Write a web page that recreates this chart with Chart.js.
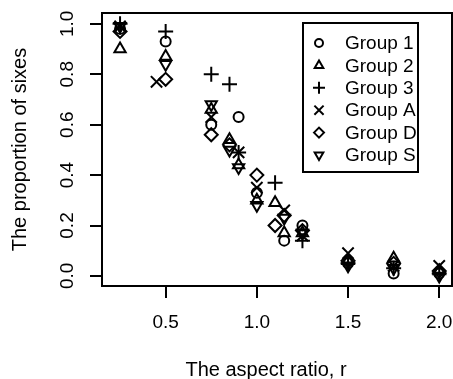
<!DOCTYPE html>
<html>
<head>
<meta charset="utf-8">
<script src="https://cdn.jsdelivr.net/npm/chart.js@4.4.1/dist/chart.umd.min.js"></script>
<style>
html, body { margin: 0; padding: 0; background: #fff; }
#wrap { width: 453px; height: 379px; }
</style>
</head>
<body>
<div id="wrap"><canvas id="plot" width="453" height="379"></canvas></div>
<script>
// ---- data ----
var GROUP_NAMES = ['Group 1', 'Group 2', 'Group 3', 'Group A', 'Group D', 'Group S'];

var G1_X = [0.25, 0.5, 0.75, 0.9, 1.0, 1.15, 1.25, 1.5, 1.75, 2.0];
var G1_Y = [0.98, 0.93, 0.60, 0.63, 0.33, 0.14, 0.20, 0.05, 0.01, 0.01];

var G2_X = [0.25, 0.5, 0.75, 0.85, 0.9, 1.0, 1.1, 1.15, 1.25, 1.5, 1.75, 2.0];
var G2_Y = [0.90, 0.87, 0.66, 0.54, 0.44, 0.30, 0.29, 0.17, 0.17, 0.06, 0.07, 0.02];

var G3_X = [0.25, 0.5, 0.75, 0.85, 0.9, 1.1, 1.25, 1.5, 1.75, 2.0];
var G3_Y = [1.00, 0.97, 0.80, 0.76, 0.49, 0.37, 0.14, 0.05, 0.03, 0.01];

var GA_X = [0.25, 0.45, 0.75, 0.9, 1.0, 1.15, 1.25, 1.5, 1.75, 2.0];
var GA_Y = [0.99, 0.77, 0.63, 0.49, 0.35, 0.26, 0.16, 0.09, 0.04, 0.04];

var GD_X = [0.25, 0.5, 0.75, 0.85, 1.0, 1.1, 1.15, 1.25, 1.5, 1.75, 2.0];
var GD_Y = [0.97, 0.78, 0.56, 0.52, 0.40, 0.20, 0.24, 0.18, 0.06, 0.05, 0.02];

var GS_X = [0.25, 0.5, 0.75, 0.85, 0.9, 1.0, 1.15, 1.25, 1.5, 1.75, 2.0];
var GS_Y = [0.99, 0.84, 0.68, 0.50, 0.43, 0.28, 0.23, 0.17, 0.04, 0.03, 0.00];

var X_TICKS = [0.5, 1.0, 1.5, 2.0];
var Y_TICKS = [0.0, 0.2, 0.4, 0.6, 0.8, 1.0];
var X_TITLE = 'The aspect ratio, r';
var Y_TITLE = 'The proportion of sixes';

var FONT = '"Liberation Sans", Arial, sans-serif';

function toPoints(xs, ys) {
    var pts = [];
    for (var i = 0; i < xs.length; i++) pts.push({ x: xs[i], y: ys[i] });
    return pts;
}

var STYLES = [
    { pointStyle: 'circle', radius: 5, rotation: 0 },
    { pointStyle: 'triangle', radius: 6.5, rotation: 0 },
    { pointStyle: 'cross', radius: 7.5, rotation: 0 },
    { pointStyle: 'crossRot', radius: 8, rotation: 0 },
    { pointStyle: 'rectRot', radius: 6.5, rotation: 0 },
    { pointStyle: 'triangle', radius: 6.5, rotation: 180 }
];
var SERIES = [[G1_X, G1_Y], [G2_X, G2_Y], [G3_X, G3_Y], [GA_X, GA_Y], [GD_X, GD_Y], [GS_X, GS_Y]];

var datasets = SERIES.map(function (s, i) {
    return {
        label: GROUP_NAMES[i],
        data: toPoints(s[0], s[1]),
        pointStyle: STYLES[i].pointStyle,
        pointRadius: STYLES[i].radius,
        pointRotation: STYLES[i].rotation,
        pointBorderWidth: 2,
        pointBorderColor: '#000',
        pointBackgroundColor: 'rgba(0,0,0,0)',
        showLine: false
    };
});

// box, tick labels, titles and the legend inside the plot (R look)
var rStylePlugin = {
    id: 'rStyle',
    afterDraw: function (chart) {
        var ctx = chart.ctx;
        var a = chart.chartArea;
        var xs = chart.scales.x;
        var ys = chart.scales.y;
        ctx.save();
        ctx.strokeStyle = '#000';
        ctx.lineWidth = 2;
        ctx.strokeRect(a.left, a.top, a.right - a.left, a.bottom - a.top);

        ctx.fillStyle = '#000';
        ctx.font = '19px ' + FONT;
        ctx.textAlign = 'center';
        ctx.textBaseline = 'middle';
        X_TICKS.forEach(function (v) {
            ctx.fillText(v.toFixed(1), xs.getPixelForValue(v), 323);
        });
        Y_TICKS.forEach(function (v) {
            var py = ys.getPixelForValue(v);
            ctx.save();
            ctx.translate(68, py);
            ctx.rotate(-Math.PI / 2);
            ctx.fillText(v.toFixed(1), 0, 0);
            ctx.restore();
        });

        ctx.font = '20px ' + FONT;
        ctx.save();
        ctx.translate(20, (a.top + a.bottom) / 2);
        ctx.rotate(-Math.PI / 2);
        ctx.fillText(Y_TITLE, 0, 0);
        ctx.restore();

        ctx.fillText(X_TITLE, 266, 370);

        // legend
        var lx = 303, ly = 23, lw = 115, lh = 149;
        ctx.lineWidth = 2;
        ctx.strokeRect(lx, ly, lw, lh);
        ctx.textAlign = 'left';
        ctx.font = '19px ' + FONT;
        chart.data.datasets.forEach(function (ds, i) {
            var cy = 43 + i * 22.4;
            ctx.fillStyle = 'rgba(0,0,0,0)';
            ctx.strokeStyle = '#000';
            ctx.lineWidth = 2;
            Chart.helpers.drawPoint(ctx, {
                pointStyle: ds.pointStyle,
                rotation: ds.pointRotation,
                radius: Math.max(ds.pointRadius - 1.5, 4),
                borderWidth: 2
            }, 319, cy);
            ctx.fillStyle = '#000';
            ctx.fillText(ds.label, 345, cy + 1);
        });
        ctx.restore();
    }
};

new Chart(document.getElementById('plot'), {
    type: 'scatter',
    data: { datasets: datasets },
    options: {
        responsive: false,
        animation: false,
        devicePixelRatio: 1,
        layout: { autoPadding: false, padding: { top: 13, right: 1, left: 0, bottom: 0 } },
        plugins: { legend: { display: false }, tooltip: { enabled: false } },
        scales: {
            x: {
                type: 'linear',
                min: 0.151,
                max: 2.07,
                afterBuildTicks: function (s) { s.ticks = X_TICKS.map(function (v) { return { value: v }; }); },
                afterFit: function (s) { s.height = 93; },
                border: { display: false },
                grid: { drawOnChartArea: false, drawTicks: true, tickLength: 12, color: '#000', lineWidth: 2 },
                ticks: { display: false }
            },
            y: {
                type: 'linear',
                min: -0.04,
                max: 1.043,
                afterBuildTicks: function (s) { s.ticks = Y_TICKS.map(function (v) { return { value: v }; }); },
                afterFit: function (s) { s.width = 102; },
                border: { display: false },
                grid: { drawOnChartArea: false, drawTicks: true, tickLength: 12, color: '#000', lineWidth: 2 },
                ticks: { display: false }
            }
        }
    },
    plugins: [rStylePlugin]
});
</script>
</body>
</html>
